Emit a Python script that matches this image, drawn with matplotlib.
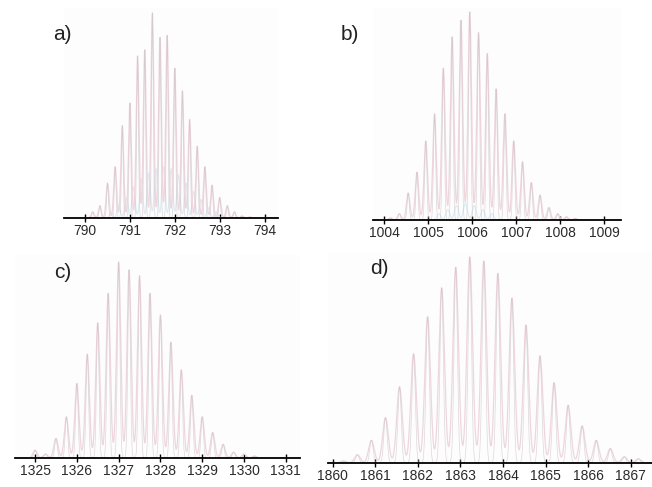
import numpy as np
import matplotlib
matplotlib.use("Agg")
import matplotlib.pyplot as plt

plt.rcParams['font.family'] = ['Liberation Sans', 'DejaVu Sans']

# isotope envelopes, centroid m/z and relative intensity
mz_a = [790.17, 790.33, 790.50, 790.67, 790.83, 791.00, 791.17, 791.33, 791.50, 791.67, 791.83,
        792.00, 792.17, 792.33, 792.50, 792.67, 792.83, 793.00, 793.17, 793.33, 793.50, 793.67]
int_a = [0.03, 0.06, 0.17, 0.25, 0.45, 0.56, 0.79, 0.82, 1.00, 0.88, 0.89,
         0.73, 0.62, 0.48, 0.35, 0.25, 0.16, 0.10, 0.06, 0.03, 0.01, 0.005]
mz_a2 = [790.58, 790.75, 790.92, 791.08, 791.25, 791.42, 791.58, 791.75,
         791.92, 792.08, 792.25, 792.42, 792.58, 792.75, 792.92, 793.08]
int_a2 = [0.03, 0.06, 0.10, 0.15, 0.19, 0.22, 0.24, 0.25,
          0.24, 0.21, 0.17, 0.13, 0.09, 0.05, 0.03, 0.01]

mz_b = [1004.14, 1004.34, 1004.54, 1004.74, 1004.94, 1005.14, 1005.34, 1005.54, 1005.74, 1005.94, 1006.14,
        1006.34, 1006.54, 1006.74, 1006.94, 1007.14, 1007.34, 1007.54, 1007.74, 1007.94, 1008.14, 1008.34]
int_b = [0.01, 0.03, 0.13, 0.23, 0.38, 0.51, 0.73, 0.88, 0.96, 1.00, 0.90,
         0.80, 0.63, 0.51, 0.38, 0.28, 0.18, 0.12, 0.06, 0.03, 0.015, 0.008]
mz_b2 = [1005.24, 1005.44, 1005.64, 1005.84, 1006.04, 1006.24, 1006.44]
int_b2 = [0.03, 0.05, 0.07, 0.08, 0.07, 0.05, 0.03]

mz_c = [1325.00, 1325.25, 1325.50, 1325.75, 1326.00, 1326.25, 1326.50, 1326.75, 1327.00, 1327.25, 1327.50,
        1327.75, 1328.00, 1328.25, 1328.50, 1328.75, 1329.00, 1329.25, 1329.50, 1329.75, 1330.00, 1330.25]
int_c = [0.04, 0.02, 0.10, 0.21, 0.38, 0.53, 0.69, 0.84, 1.00, 0.96, 0.93,
         0.84, 0.73, 0.59, 0.45, 0.32, 0.21, 0.13, 0.07, 0.03, 0.02, 0.01]

mz_d = [1860.25, 1860.58, 1860.91, 1861.24, 1861.57, 1861.90, 1862.23, 1862.56, 1862.89, 1863.22, 1863.55,
        1863.88, 1864.21, 1864.54, 1864.87, 1865.20, 1865.53, 1865.86, 1866.19, 1866.52, 1866.85, 1867.18]
int_d = [0.01, 0.04, 0.11, 0.22, 0.37, 0.53, 0.71, 0.85, 0.95, 1.00, 0.98,
         0.92, 0.80, 0.67, 0.52, 0.39, 0.28, 0.18, 0.11, 0.07, 0.03, 0.02]

panels = [
    # label, centroids, intensities, extra species, xlim, ticks, ylim top, axes rect, label pos
    ("a)", mz_a, int_a, (mz_a2, int_a2), (789.53, 794.3), range(790, 795), 1.024,
     [64/652, 1-218/487, 214/652, 210/487], (53, 35)),
    ("b)", mz_b, int_b, (mz_b2, int_b2), (1003.74, 1009.38), range(1004, 1010), 1.019,
     [373/652, 1-220/487, 248/652, 212/487], (341, 35)),
    ("c)", mz_c, int_c, None, (1324.52, 1331.34), range(1325, 1332), 1.036,
     [15/652, 1-458/487, 285/652, 203/487], (54, 272)),
    ("d)", mz_d, int_d, None, (1859.89, 1867.5), range(1860, 1868), 1.024,
     [328/652, 1-463/487, 324/652, 211/487], (370, 268)),
]


def profile(x, centres, heights, sigma):
    y = np.zeros_like(x)
    for c, h in zip(centres, heights):
        y += h * np.exp(-0.5 * ((x - c) / sigma) ** 2)
    return y


fig = plt.figure(figsize=(6.52, 4.87), dpi=100)

for label, mz, inten, extra, xlim, ticks, ytop, rect, lab_pos in panels:
    ax = fig.add_axes(rect)
    ax.set_facecolor('#fdfdfd')
    spacing = mz[1] - mz[0]
    x = np.linspace(xlim[0], xlim[1], 6000)
    if extra is not None:
        ax.plot(x, profile(x, extra[0], extra[1], spacing * 0.22), color='#dcebf3', lw=0.8)
    ax.plot(x, profile(x, mz, inten, spacing * 0.2), color='#eed6dd', lw=0.9)
    ax.plot(x, profile(x, mz, inten, spacing * 0.12), color='#c9bfc5', lw=0.5, alpha=0.6)
    ax.set_xlim(*xlim)
    ax.set_ylim(0, ytop)
    for s in ['top', 'left', 'right']:
        ax.spines[s].set_visible(False)
    ax.spines['bottom'].set_linewidth(1.3)
    ax.set_yticks([])
    ax.set_xticks(list(ticks))
    ax.tick_params(axis='x', direction='inout', length=6, width=1.0, pad=1.5,
                   labelsize=10, labelcolor='#2a2a2a')
    fig.text(lab_pos[0] / 652, 1 - lab_pos[1] / 487, label, fontsize=15,
             color='#222222', va='center', ha='left')

fig.savefig('out.png', dpi=100, facecolor='white')
